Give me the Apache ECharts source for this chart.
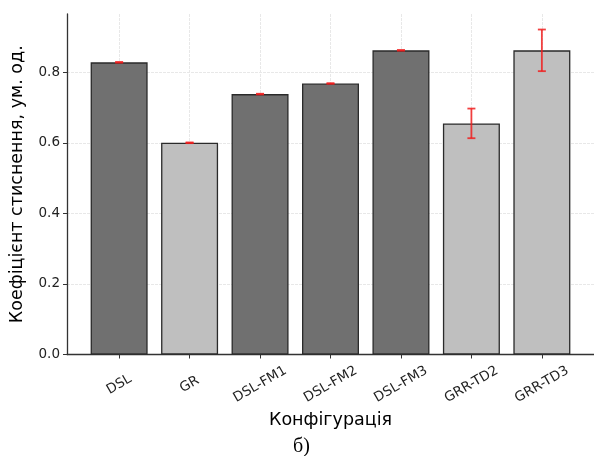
<!DOCTYPE html>
<html>
<head>
<meta charset="utf-8">
<script src="https://cdn.jsdelivr.net/npm/echarts@6/dist/echarts.min.js"></script>
<style>
  html, body { margin: 0; padding: 0; background: #fff; }
  #chart { width: 594px; height: 456px; }
</style>
</head>
<body>
<div id="chart"></div>
<script>
// configurations along the x axis
var categories = ['DSL', 'GR', 'DSL-FM1', 'DSL-FM2', 'DSL-FM3', 'GRR-TD2', 'GRR-TD3']
// mean compression coefficient
var means = [0.828, 0.600, 0.738, 0.768, 0.862, 0.655, 0.862]
// half-width of the error bars
var errors = [0.001, 0.001, 0.001, 0.001, 0.001, 0.042, 0.059]
var yTicks = [0, 0.2, 0.4, 0.6, 0.8]

var fontFamily = 'DejaVu Sans'
var dark = '#707070'
var light = '#bfbfbf'

var idx = categories.map(function(c, i) { return i })

var barData = categories.map(function(name, i) {
  return {
    value: [i, means[i]],
    itemStyle: { color: name.indexOf('GR') === 0 ? light : dark }
  }
})

var errData = categories.map(function(name, i) {
  return [i, means[i] - errors[i], means[i] + errors[i]]
})

var chart = echarts.init(document.getElementById('chart'))

chart.setOption({
  animation: false,
  backgroundColor: '#fff',
  textStyle: { fontFamily: fontFamily },
  grid: { left: 67, right: 0, top: 14, bottom: 101.5 },
  xAxis: {
    type: 'value',
    min: -0.74,
    max: 6.74,
    name: 'Конфігурація',
    nameLocation: 'middle',
    nameGap: 54,
    nameTextStyle: { fontSize: 17.5, color: '#000', fontFamily: fontFamily },
    axisLine: { onZero: false, lineStyle: { color: '#333', width: 1.3 } },
    axisTick: {
      show: true,
      length: 4,
      customValues: idx,
      lineStyle: { color: '#333', width: 1 }
    },
    axisLabel: {
      customValues: idx,
      rotate: 30,
      align: 'center',
      verticalAlign: 'middle',
      margin: 30,
      fontSize: 13.5,
      color: '#222',
      formatter: function(v) { return categories[Math.round(v)] }
    },
    splitLine: {
      show: true,
      lineStyle: { color: '#e8e8e8', width: 1, type: [3, 1] }
    }
  },
  yAxis: {
    type: 'value',
    min: 0,
    max: 0.965,
    name: 'Коефіцієнт стиснення, ум. од.',
    nameLocation: 'middle',
    nameGap: 41,
    nameTextStyle: { fontSize: 17.5, color: '#000', fontFamily: fontFamily },
    axisLine: { show: true, onZero: false, lineStyle: { color: '#333', width: 1.3 } },
    axisTick: {
      show: true,
      length: 4,
      customValues: yTicks,
      lineStyle: { color: '#333', width: 1 }
    },
    axisLabel: {
      customValues: yTicks,
      margin: 7,
      fontSize: 13.5,
      color: '#222',
      formatter: function(v) { return v.toFixed(1) }
    },
    splitLine: {
      show: true,
      lineStyle: { color: '#e8e8e8', width: 1, type: [3, 1] }
    }
  },
  series: [
    {
      type: 'bar',
      barWidth: 57,
      data: barData,
      itemStyle: { borderColor: '#2a2a2a', borderWidth: 1.3 },
      z: 2
    },
    {
      type: 'custom',
      z: 5,
      data: errData,
      renderItem: function(params, api) {
        var x = api.value(0)
        var lo = api.coord([x, api.value(1)])
        var hi = api.coord([x, api.value(2)])
        var cap = 4
        var style = { stroke: 'rgba(240,30,30,0.85)', lineWidth: 1.8, fill: null }
        return {
          type: 'group',
          children: [
            { type: 'line', shape: { x1: lo[0], y1: lo[1], x2: hi[0], y2: hi[1] }, style: style },
            { type: 'line', shape: { x1: lo[0] - cap, y1: lo[1], x2: lo[0] + cap, y2: lo[1] }, style: style },
            { type: 'line', shape: { x1: hi[0] - cap, y1: hi[1], x2: hi[0] + cap, y2: hi[1] }, style: style }
          ]
        }
      }
    }
  ],
  graphic: [
    {
      type: 'text',
      left: 293,
      top: 437,
      style: { text: 'б)', font: '20px "Liberation Serif"', fill: '#000' }
    }
  ]
})
</script>
</body>
</html>
